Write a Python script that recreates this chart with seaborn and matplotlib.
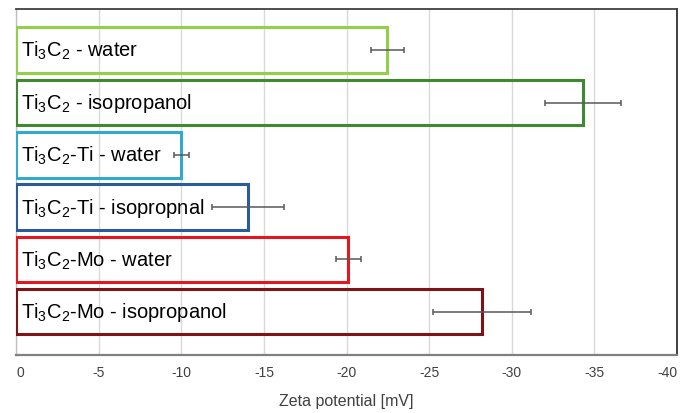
import matplotlib
matplotlib.use("Agg")
import matplotlib.pyplot as plt
import seaborn as sns
import pandas as pd

samples = ["Ti$_3$C$_2$ - water", "Ti$_3$C$_2$ - isopropanol", "Ti$_3$C$_2$-Ti - water",
           "Ti$_3$C$_2$-Ti - isopropnal", "Ti$_3$C$_2$-Mo - water", "Ti$_3$C$_2$-Mo - isopropanol"]
zeta = [-22.45, -34.3, -10.0, -14.0, -20.1, -28.2]
errors = [1.0, 2.3, 0.45, 2.18, 0.75, 2.98]
colors = ["#92CF4A", "#3F8A30", "#33A9CC", "#2A5C9B", "#E3171F", "#7F1416"]
xticks = [0, -5, -10, -15, -20, -25, -30, -35, -40]

sns.set_theme(style="white")
plt.rcParams["font.family"] = ["Liberation Sans", "DejaVu Sans"]
plt.rcParams["mathtext.fontset"] = "custom"
plt.rcParams["mathtext.rm"] = "Liberation Sans"
plt.rcParams["mathtext.it"] = "Liberation Sans"
plt.rcParams["axes.unicode_minus"] = False

df = pd.DataFrame({"sample": samples, "zeta": zeta, "err": errors})

fig = plt.figure(figsize=(6.82, 4.14), dpi=100)
ax = fig.add_axes([0.0239, 0.1401, 0.9688, 0.8369])

sns.barplot(data=df, x="zeta", y="sample", hue="sample", palette=colors,
            fill=False, linewidth=2.2, width=0.875, errorbar=None,
            legend=False, ax=ax, orient="h", zorder=3)
for p in ax.patches:
    p.set_facecolor("none")

ax.errorbar(df["zeta"], range(len(df)), xerr=df["err"], fmt="none",
            ecolor="#595959", elinewidth=1.1, capsize=2.5, capthick=1.1, zorder=4)

for i, lab in enumerate(samples):
    ax.annotate(lab, xy=(0, i), xytext=(3.5, 0), textcoords="offset points",
                ha="left", va="center", fontsize=14.5, color="black", zorder=5)

ax.set_xlim(0, -40)
ax.set_ylim(5.83, -0.8)
ax.set_xticks(xticks)
ax.set_xticklabels([str(t) for t in xticks], fontsize=10, color="#404040")
tls = ax.get_xticklabels()
tls[0].set_horizontalalignment("left")
tls[-1].set_horizontalalignment("right")
ax.set_yticks([])
ax.set_ylabel("")
ax.set_xlabel("Zeta potential [mV]", fontsize=11.5, color="#404040", labelpad=10)
ax.tick_params(axis="x", length=0, pad=7)
ax.grid(axis="x", color="#D9D9D9", linewidth=1.0, zorder=0)
ax.set_axisbelow(True)

for side, col, lw in [("top", "#404040", 1.3), ("right", "#303030", 1.3),
                      ("bottom", "#808080", 1.6), ("left", "#BFBFBF", 1.0)]:
    ax.spines[side].set_visible(True)
    ax.spines[side].set_color(col)
    ax.spines[side].set_linewidth(lw)

fig.savefig("out.png", dpi=100)
